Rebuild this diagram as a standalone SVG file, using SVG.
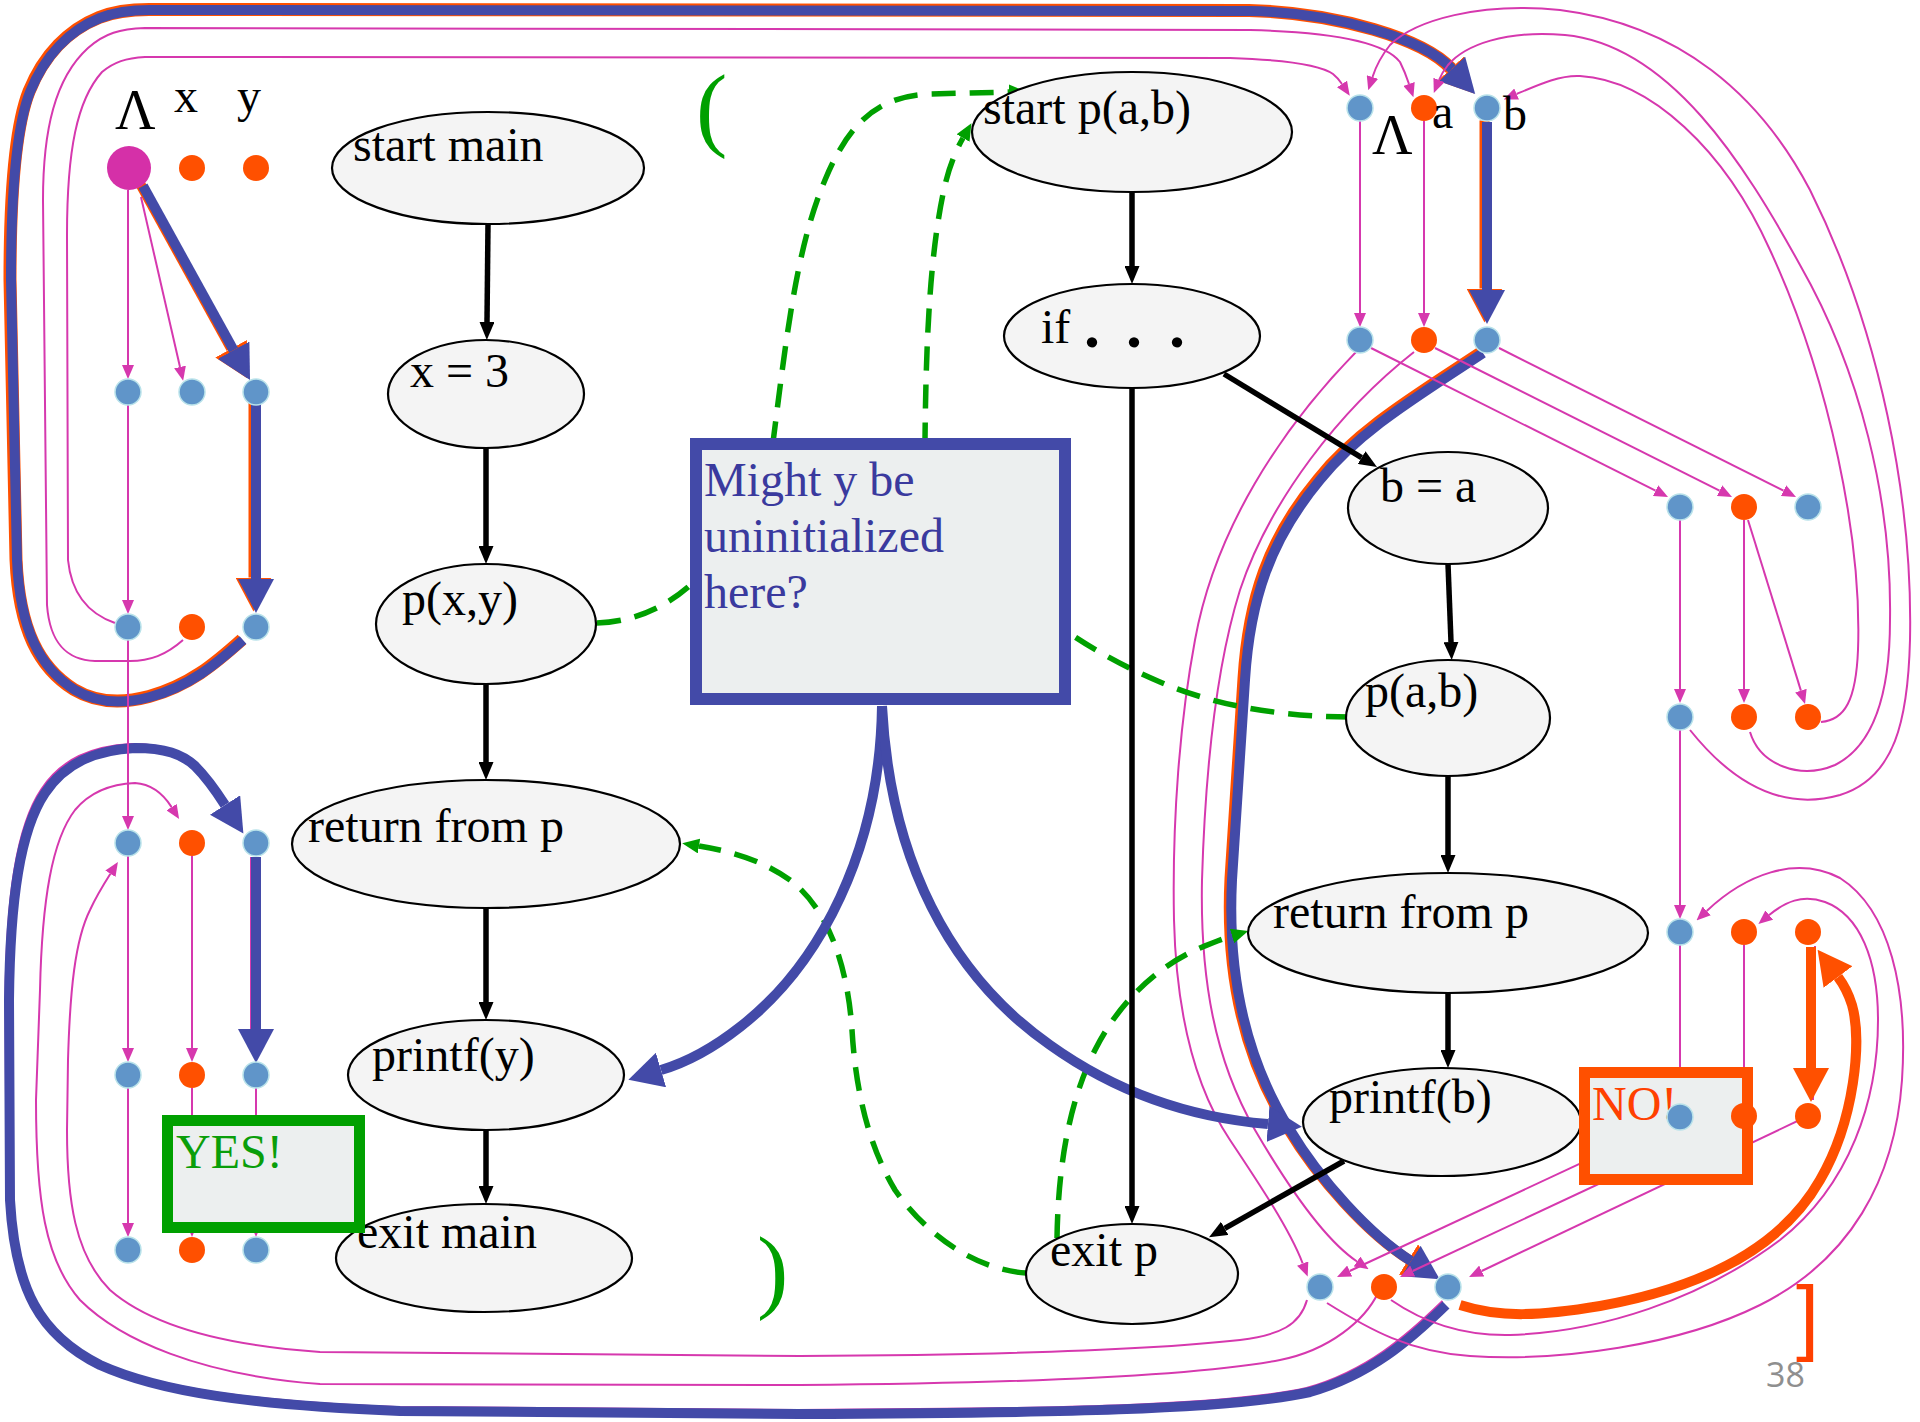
<svg xmlns="http://www.w3.org/2000/svg" width="1920" height="1422" viewBox="0 0 1920 1422">
<defs>
<style>
.t{font-family:"Liberation Serif","Times New Roman",serif;font-size:48px;fill:#000}
.nd ellipse{fill:#F4F4F4;stroke:#000;stroke-width:2.2}
.e{fill:none;stroke:#000;stroke-width:5.5;marker-end:url(#aK)}
.m{fill:none;stroke:#D638AE;stroke-width:2;marker-end:url(#aM)}
.um{fill:none;stroke:#D638AE;stroke-width:2}
.b{fill:none;stroke:#434AA8;stroke-width:10;marker-end:url(#aB)}
.uo{fill:none;stroke:#FF5000;stroke-width:10;marker-end:url(#aO)}
.o{fill:none;stroke:#FF5000;stroke-width:10;marker-end:url(#aO)}
.g{fill:none;stroke:#00A000;stroke-width:5.5;stroke-dasharray:24 14;marker-end:url(#aG)}
.db{fill:#6095C9;stroke:#B9E2EA;stroke-width:1.5}
.do{fill:#FF5000}
.box{fill:#ECEFEF;stroke-width:11}
</style>
<marker id="aK" viewBox="0 0 18 15" refX="0" refY="7.5" markerWidth="18" markerHeight="15" orient="auto" markerUnits="userSpaceOnUse"><path d="M0,0 L18,7.5 L0,15 z" fill="#000"/></marker>
<marker id="aM" viewBox="0 0 14 12" refX="0" refY="6" markerWidth="14" markerHeight="12" orient="auto" markerUnits="userSpaceOnUse"><path d="M0,0 L14,6 L0,12 z" fill="#D638AE"/></marker>
<marker id="aB" viewBox="0 0 34 36" refX="0" refY="18" markerWidth="34" markerHeight="36" orient="auto" markerUnits="userSpaceOnUse"><path d="M0,0 L34,18 L0,36 z" fill="#434AA8"/></marker>
<marker id="aO" viewBox="0 0 34 36" refX="0" refY="18" markerWidth="34" markerHeight="36" orient="auto" markerUnits="userSpaceOnUse"><path d="M0,0 L34,18 L0,36 z" fill="#FF5000"/></marker>
<marker id="aG" viewBox="0 0 17 15" refX="0" refY="7.5" markerWidth="17" markerHeight="15" orient="auto" markerUnits="userSpaceOnUse"><path d="M0,0 L17,7.5 L0,15 z" fill="#00A000"/></marker>
</defs>
<rect width="1920" height="1422" fill="#fff"/>

<g id="connectors">
  <!-- fringes under the highlighted paths -->
  <g transform="translate(-2.5,-1.5)">
    <path class="uo" d="M143,186 L233.6,350.2"/>
    <path class="uo" d="M256,404 L256,579"/>
    <path class="uo" d="M1487,122 L1487,290"/>
    <path class="uo" d="M1483,353 C1420,395 1360,430 1320,480 C1270,540 1250,600 1245,680 L1232,880 C1228,960 1240,1050 1290,1130 C1320,1180 1370,1235 1411,1261"/>
  </g>
  <path class="uo" style="stroke-width:13" d="M243,640 C215,665 190,686 150,697 C120,705 95,702 75,690 C40,668 20,630 17,560 L11,280 C11,200 15,130 30,92 C45,55 70,30 100,18 C115,12 130,10 150,10 L1250,11 C1340,13 1425,40 1452,69" transform="translate(-1,-0.5)"/>
  <path class="um" transform="translate(-3.5,-4)" d="M1446,1305 C1410,1340 1370,1375 1310,1392 C1230,1410 1050,1413 800,1414 L400,1411 C250,1405 160,1392 100,1365 C40,1335 15,1290 10,1200 L9,1000 C10,900 20,830 45,793 C65,763 95,750 135,748 C165,748 182,754 195,766 C207,778 216,791 225,805"/>
  <path class="um" d="M251,857 L251,1050"/>
  <path class="um" d="M1815,946 L1813,1100"/>

  <!-- highlighted flow of y / b -->
  <path class="b" d="M143,186 L233.6,350.2"/>
  <path class="b" d="M256,404 L256,579"/>
  <path class="b" d="M256,857 L256,1029"/>
  <path class="b" d="M243,640 C215,665 190,686 150,697 C120,705 95,702 75,690 C40,668 20,630 17,560 L11,280 C11,200 15,130 30,92 C45,55 70,30 100,18 C115,12 130,10 150,10 L1250,11 C1340,13 1425,40 1452,69"/>
  <path class="b" d="M1487,122 L1487,290"/>
  <path class="b" d="M1483,353 C1420,395 1360,430 1320,480 C1270,540 1250,600 1245,680 L1232,880 C1228,960 1240,1050 1290,1130 C1320,1180 1370,1235 1411,1261"/>
  <path class="b" d="M1446,1305 C1410,1340 1370,1375 1310,1392 C1230,1410 1050,1413 800,1414 L400,1411 C250,1405 160,1392 100,1365 C40,1335 15,1290 10,1200 L9,1000 C10,900 20,830 45,793 C65,763 95,750 135,748 C165,748 182,754 195,766 C207,778 216,791 225,805"/>

  <!-- exploded edges: main -->
  <path class="m" d="M128,190 L128,365"/>
  <path class="m" d="M141,197 L180,367"/>
  <path class="m" d="M128,405 L128,600"/>
  <path class="m" d="M128,640 L128,816"/>
  <path class="m" d="M128,856 L128,1048"/>
  <path class="m" d="M192,856 L192,1048"/>
  <path class="m" d="M128,1088 L128,1223"/>
  <path class="m" d="M192,1088 L192,1223"/>
  <path class="m" d="M256,1088 L256,1223"/>
  <!-- call edges main -> p -->
  <path class="m" d="M183,640 C166,655 150,661 130,661 L95,661 C68,660 50,645 47,605 L43,200 C43,130 55,78 88,48 C105,33 120,29 145,28 L1250,30 C1330,32 1385,42 1400,62 Q1405,72 1409,84"/>
  <path class="m" d="M115,623 C95,616 72,600 68,560 L67,235 C67,150 77,100 102,72 C114,62 126,58 145,57 L1230,58 C1290,60 1322,66 1333,74 Q1338,78 1342,84"/>
  <!-- exploded edges: p -->
  <path class="m" d="M1360,121 L1360,313"/>
  <path class="m" d="M1424,121 L1424,313"/>
  <path class="m" d="M1371,348 L1655.5,490.7"/>
  <path class="m" d="M1435,348 L1719.5,490.7"/>
  <path class="m" d="M1499,348 L1783.5,490.7"/>
  <path class="m" d="M1680,520 L1680,689"/>
  <path class="m" d="M1744,520 L1744,689"/>
  <path class="m" d="M1748,520 L1800.9,690.6"/>
  <path class="m" d="M1680,730 L1680,905"/>
  <path class="m" d="M1680,945 L1680,1090"/>
  <path class="m" d="M1744,945 L1744,1089"/>
  <path class="m" d="M1680,1117 L1349.7,1271"/>
  <path class="m" d="M1744,1116 L1412.7,1271"/>
  <path class="m" d="M1808,1116 L1481.7,1271"/>
  <!-- recursive call edges p(a,b) -> start p -->
  <path class="m" d="M1690,730 C1730,780 1780,812 1840,795 C1895,778 1908,720 1910,640 C1913,500 1880,330 1810,190 C1760,95 1680,25 1560,10 C1480,2 1415,20 1390,45 C1382,55 1376,66 1372.5,77"/>
  <path class="m" d="M1750,732 C1760,765 1800,780 1835,765 C1875,745 1890,690 1890,620 C1892,500 1860,370 1800,265 C1745,165 1670,45 1565,35 C1505,30 1465,45 1448,65 C1444,70 1441,75 1439,80"/>
  <path class="m" d="M1821,722 C1845,720 1856,700 1858,650 C1862,540 1830,380 1770,250 C1725,150 1650,80 1580,76 C1560,75 1540,84 1516.6,94"/>
  <!-- if false branch -> exit p -->
  <path class="m" d="M1356,352 C1280,430 1215,530 1195,640 C1180,720 1172,820 1174,920 C1176,1000 1190,1080 1230,1140 C1260,1185 1290,1230 1302.7,1263.5"/>
  <path class="m" d="M1414,352 C1340,410 1270,500 1240,590 C1215,670 1205,780 1202,880 C1200,980 1215,1060 1255,1130 C1290,1190 1325,1240 1357,1261.5"/>
  <!-- return edges exit p -> return sites -->
  <path class="m" d="M1327,1303 C1370,1330 1410,1352 1470,1356 C1560,1362 1680,1345 1760,1305 C1850,1260 1895,1180 1902,1080 C1908,990 1890,910 1840,878 C1795,855 1745,875 1706.7,910.9"/>
  <path class="m" d="M1391,1300 C1420,1320 1460,1336 1510,1335 C1600,1332 1700,1300 1780,1240 C1850,1185 1878,1100 1878,1020 C1878,960 1860,915 1825,902 C1802,894 1785,902 1769.2,915"/>
  <path class="m" d="M1307,1300 C1300,1325 1280,1335 1240,1340 C1150,1350 1000,1355 800,1356 L320,1352 C220,1345 150,1325 110,1290 C75,1255 67,1200 67,1130 L68,1060 C70,990 75,940 90,910 C96,897 102,887 110.4,873.8"/>
  <path class="m" d="M1378,1293 C1365,1320 1330,1350 1280,1360 C1200,1375 1050,1383 800,1385 L320,1384 C200,1375 120,1340 80,1300 C45,1260 36,1200 36,1100 L40,990 C42,900 52,840 75,810 C90,792 110,784 135,783 C150,784 162,792 171.6,807.1"/>

  <!-- uninitialized b reaches printf(b) -->
  <path class="o" d="M1811,947 L1811,1068"/>
  <path class="o" d="M1460,1305 C1500,1318 1540,1316 1600,1306 C1700,1288 1780,1250 1820,1180 C1855,1120 1862,1040 1852,1005 C1848,992 1844,985 1838,977"/>

  <!-- interprocedural call / return edges -->
  <path class="g" d="M597,623 C640,622 680,600 705,570 L772,450 C785,350 795,250 825,180 C850,120 880,96 930,94 L1009,92"/>
  <path class="g" d="M1350,717 C1290,717 1220,708 1160,682 C1120,665 1095,650 1072,635 L925,440 C926,340 930,250 945,185 C949,168 955,152 963,138"/>
  <path class="g" d="M1026,1273 C980,1270 930,1240 895,1190 C865,1140 855,1080 852,1030 C848,970 830,910 790,880 C762,860 730,851 699,846"/>
  <path class="g" d="M1057,1238 C1058,1180 1065,1110 1095,1050 C1120,1000 1160,965 1200,948 C1212,943 1222,939 1232,936"/>

  <!-- question pointers -->
  <path class="b" d="M882,706 C880,850 820,965 740,1027 C712,1049 688,1062 661,1070"/>
  <path class="b" d="M882,706 C890,860 950,975 1050,1045 C1120,1095 1195,1118 1268,1124"/>

  <!-- control flow -->
  <path class="e" d="M488,224 L487,322"/>
  <path class="e" d="M486,448 L486,546"/>
  <path class="e" d="M486,684 L486,762"/>
  <path class="e" d="M486,908 L486,1002"/>
  <path class="e" d="M486,1130 L486,1186"/>
  <path class="e" d="M1132,192 L1132,266"/>
  <path class="e" d="M1132,388 L1132,1206"/>
  <path class="e" d="M1224,374 L1361.6,457.6"/>
  <path class="e" d="M1448,564 L1451,642"/>
  <path class="e" d="M1448,776 L1448,855"/>
  <path class="e" d="M1448,993 L1448,1050"/>
  <path class="e" d="M1344,1161 L1224.7,1228.3"/>
</g>

<g id="node-start-main" class="nd"><ellipse cx="488" cy="168" rx="156" ry="56"/><text class="t" x="353" y="161">start main</text></g>
<g id="node-x-3" class="nd"><ellipse cx="486" cy="394" rx="98" ry="54"/><text class="t" x="410" y="387">x = 3</text></g>
<g id="node-call-p-xy" class="nd"><ellipse cx="486" cy="624" rx="110" ry="60"/><text class="t" x="402" y="615">p(x,y)</text></g>
<g id="node-return-main" class="nd"><ellipse cx="486" cy="844" rx="194" ry="64"/><text class="t" x="308" y="842">return from p</text></g>
<g id="node-printf-y" class="nd"><ellipse cx="486" cy="1075" rx="138" ry="55"/><text class="t" x="372" y="1071">printf(y)</text></g>
<g id="node-exit-main" class="nd"><ellipse cx="484" cy="1258" rx="148" ry="54"/><text class="t" x="357" y="1248">exit main</text></g>
<g id="node-start-p" class="nd"><ellipse cx="1132" cy="132" rx="160" ry="60"/><text class="t" x="983" y="124">start p(a,b)</text></g>
<g id="node-if" class="nd"><ellipse cx="1132" cy="336" rx="128" ry="52"/><text class="t" x="1041" y="343">if</text><text class="t" style="font-size:64px;font-weight:bold" y="347"><tspan x="1084">.</tspan><tspan x="1126">.</tspan><tspan x="1169">.</tspan></text></g>
<g id="node-b-a" class="nd"><ellipse cx="1448" cy="508" rx="100" ry="56"/><text class="t" x="1380" y="502">b = a</text></g>
<g id="node-call-p-ab" class="nd"><ellipse cx="1448" cy="718" rx="102" ry="58"/><text class="t" x="1365" y="707">p(a,b)</text></g>
<g id="node-return-p" class="nd"><ellipse cx="1448" cy="933" rx="200" ry="60"/><text class="t" x="1273" y="928">return from p</text></g>
<g id="node-printf-b" class="nd"><ellipse cx="1442" cy="1122" rx="139" ry="54"/><text class="t" x="1329" y="1113">printf(b)</text></g>
<g id="node-exit-p" class="nd"><ellipse cx="1132" cy="1274" rx="106" ry="50"/><text class="t" x="1050" y="1266">exit p</text></g>

<g id="question">
  <rect x="696" y="444" width="369" height="255" fill="#ECEFEF" stroke="#434AA8" stroke-width="12"/>
  <text class="t" style="fill:#3A3A9E" x="704" y="496">Might y be</text>
  <text class="t" style="fill:#3A3A9E" x="704" y="552">uninitialized</text>
  <text class="t" style="fill:#3A3A9E" x="704" y="608">here?</text>
</g>
<g id="answer-yes">
  <rect class="box" x="167.5" y="1120.5" width="192" height="107" stroke="#00A000"/>
  <text class="t" style="fill:#0A9E0A" x="176" y="1168">YES!</text>
</g>
<g id="answer-no">
  <rect class="box" x="1584.5" y="1072.5" width="163" height="107" stroke="#FF5000"/>
  <text class="t" style="fill:#FF4000" x="1592" y="1120">NO!</text>
</g>

<g id="facts-main">
  <circle cx="129" cy="168" r="22" fill="#D530A8"/>
  <circle class="do" cx="192" cy="168" r="13"/><circle class="do" cx="256" cy="168" r="13"/>
  <circle class="db" cx="128" cy="392" r="13"/><circle class="db" cx="192" cy="392" r="13"/><circle class="db" cx="256" cy="392" r="13"/>
  <circle class="db" cx="128" cy="627" r="13"/><circle class="do" cx="192" cy="627" r="13"/><circle class="db" cx="256" cy="627" r="13"/>
  <circle class="db" cx="128" cy="843" r="13"/><circle class="do" cx="192" cy="843" r="13"/><circle class="db" cx="256" cy="843" r="13"/>
  <circle class="db" cx="128" cy="1075" r="13"/><circle class="do" cx="192" cy="1075" r="13"/><circle class="db" cx="256" cy="1075" r="13"/>
  <circle class="db" cx="128" cy="1250" r="13"/><circle class="do" cx="192" cy="1250" r="13"/><circle class="db" cx="256" cy="1250" r="13"/>
</g>
<g id="facts-p">
  <circle class="db" cx="1360" cy="108" r="13"/><circle class="do" cx="1424" cy="108" r="13"/><circle class="db" cx="1487" cy="108" r="13"/>
  <circle class="db" cx="1360" cy="340" r="13"/><circle class="do" cx="1424" cy="340" r="13"/><circle class="db" cx="1487" cy="340" r="13"/>
  <circle class="db" cx="1680" cy="507" r="13"/><circle class="do" cx="1744" cy="507" r="13"/><circle class="db" cx="1808" cy="507" r="13"/>
  <circle class="db" cx="1680" cy="717" r="13"/><circle class="do" cx="1744" cy="717" r="13"/><circle class="do" cx="1808" cy="717" r="13"/>
  <circle class="db" cx="1680" cy="932" r="13"/><circle class="do" cx="1744" cy="932" r="13"/><circle class="do" cx="1808" cy="932" r="13"/>
  <circle class="db" cx="1680" cy="1117" r="13"/><circle class="do" cx="1744" cy="1116" r="13"/><circle class="do" cx="1808" cy="1116" r="13"/>
  <circle class="db" cx="1320" cy="1287" r="13"/><circle class="do" cx="1384" cy="1287" r="13"/><circle class="db" cx="1448" cy="1287" r="13"/>
</g>

<g id="labels">
  <text class="t" style="font-size:56px" x="115" y="129">Λ</text>
  <text class="t" x="174" y="112">x</text>
  <text class="t" x="237" y="112">y</text>
  <text class="t" style="font-size:56px" x="1372" y="154">Λ</text>
  <text class="t" x="1432" y="128">a</text>
  <text class="t" x="1503" y="130">b</text>
  <text class="t" style="font-size:94px;fill:#00A000" x="696" y="139">(</text>
  <text class="t" style="font-size:94px;fill:#00A000" x="757" y="1301">)</text>
  <text style="font-family:'Liberation Sans',Arial,sans-serif;font-size:83px;fill:#FF4000" x="1796" y="1345">]</text>
  <text style="font-family:'Open Sans','Liberation Sans',sans-serif;font-size:34px;fill:#8F8F8F" x="1766" y="1387">38</text>
</g>
</svg>
